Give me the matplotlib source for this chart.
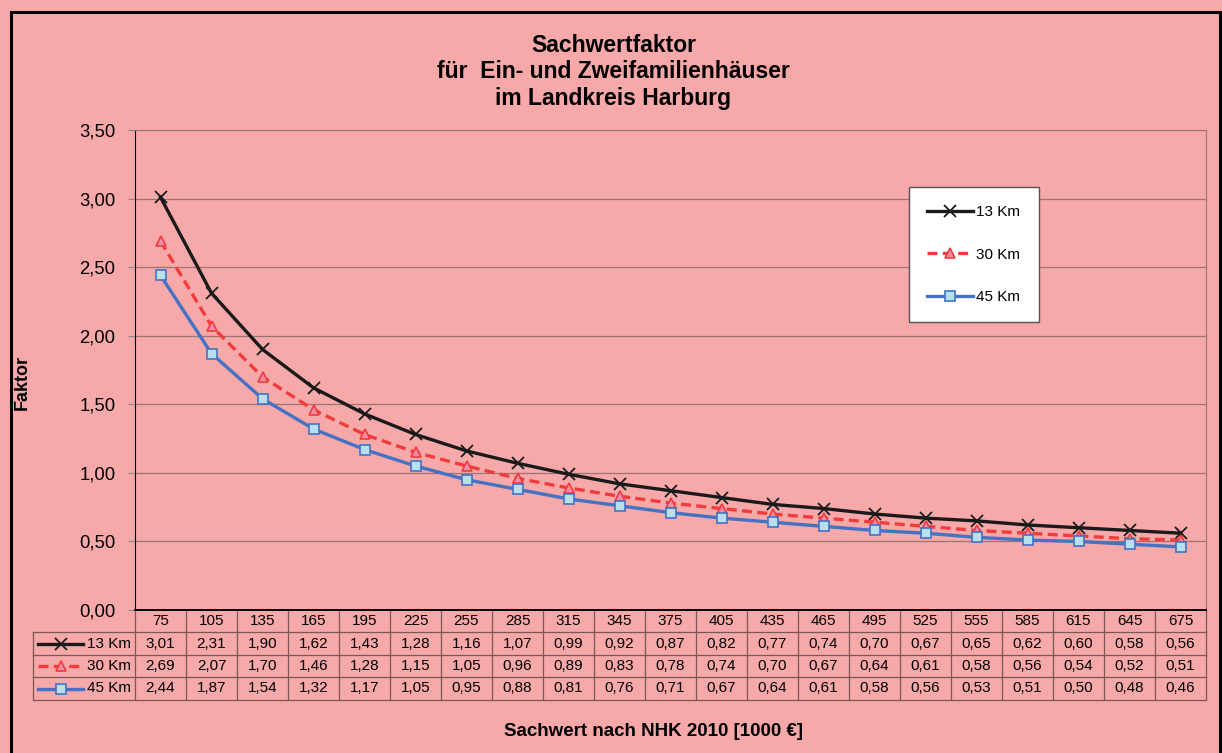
import matplotlib.pyplot as plt
from matplotlib.lines import Line2D
from matplotlib.patches import Rectangle

plt.rcParams['font.family'] = ['Liberation Sans', 'DejaVu Sans']

# Daten
sachwert = [75, 105, 135, 165, 195, 225, 255, 285, 315, 345, 375,
            405, 435, 465, 495, 525, 555, 585, 615, 645, 675]
km13 = [3.01, 2.31, 1.90, 1.62, 1.43, 1.28, 1.16, 1.07, 0.99, 0.92, 0.87,
        0.82, 0.77, 0.74, 0.70, 0.67, 0.65, 0.62, 0.60, 0.58, 0.56]
km30 = [2.69, 2.07, 1.70, 1.46, 1.28, 1.15, 1.05, 0.96, 0.89, 0.83, 0.78,
        0.74, 0.70, 0.67, 0.64, 0.61, 0.58, 0.56, 0.54, 0.52, 0.51]
km45 = [2.44, 1.87, 1.54, 1.32, 1.17, 1.05, 0.95, 0.88, 0.81, 0.76, 0.71,
        0.67, 0.64, 0.61, 0.58, 0.56, 0.53, 0.51, 0.50, 0.48, 0.46]
namen = ['13 Km', '30 Km', '45 Km']
yticks = [0, 0.5, 1.0, 1.5, 2.0, 2.5, 3.0, 3.5]

bg = '#F7A8A8'
grid = '#9C7474'
stile = [
    dict(color='#1A1A1A', lw=2.4, ls='-', marker='x', ms=9, mew=1.3,
         mfc='none', mec='#1A1A1A'),
    dict(color='#F03C3C', lw=2.4, ls=(0, (3, 1.6)), marker='^', ms=7,
         mew=1.2, mfc='#F08CA8', mec='#F03C3C'),
    dict(color='#4472C4', lw=2.4, ls='-', marker='s', ms=7, mew=1.2,
         mfc='#B7E0EC', mec='#4472C4'),
]

W, H = 1222, 753
fig = plt.figure(figsize=(W / 100, H / 100), dpi=100)
fig.patch.set_facecolor(bg)

# Rahmen aussen
fig.add_artist(Rectangle((11 / W, -0.05), (1220 - 11) / W, 1 - 12 / H + 0.05,
                         transform=fig.transFigure, fill=False, lw=2.2,
                         ec='black'))

left, right, top, bottom = 135, 1206, 130, 610
ax = fig.add_axes([left / W, 1 - bottom / H, (right - left) / W,
                   (bottom - top) / H])
ax.set_facecolor(bg)

x = list(range(len(sachwert)))
reihen = [km13, km30, km45]
for werte, name, st in zip(reihen, namen, stile):
    ax.plot(x, werte, label=name, **st)

ax.set_xlim(-0.5, len(sachwert) - 0.5)
ax.set_ylim(0, 3.5)
ax.set_yticks(yticks)
ax.set_yticklabels([f'{v:.2f}'.replace('.', ',') for v in yticks], fontsize=13.3)
ax.set_xticks([])
ax.grid(axis='y', color=grid, lw=0.9)
ax.set_axisbelow(True)
ax.tick_params(axis='y', length=5, color='#888888', pad=9)
ax.spines['left'].set_color('black')
ax.spines['bottom'].set_color('black')
ax.spines['bottom'].set_linewidth(1.4)
ax.spines['top'].set_color(grid)
ax.spines['right'].set_color(grid)

leg = ax.legend(loc='upper left', bbox_to_anchor=(909 / W, 1 - 187 / H),
                bbox_transform=fig.transFigure, fontsize=11, frameon=True,
                fancybox=False, edgecolor='#555555', facecolor='white',
                framealpha=1, handlelength=3.0, labelspacing=1.85,
                borderpad=1.2, handletextpad=0.2, borderaxespad=0)
leg.get_frame().set_linewidth(1.0)

# Datentabelle
ph = bottom - top
pw = right - left
zeilen = [610, 632, 655, 677, 700]
def ay(py):
    return (bottom - py) / ph

tr = ax.get_xaxis_transform()
for i in range(len(sachwert) + 1):
    ax.add_line(Line2D([i - 0.5, i - 0.5], [ay(zeilen[0]), ay(zeilen[-1])],
                       transform=tr, color='#7A5858', lw=0.9, clip_on=False))
lx = (33 - left) / pw
for py in zeilen[1:]:
    ax.add_line(Line2D([lx, 1], [ay(py), ay(py)], transform=ax.transAxes,
                       color='#7A5858', lw=0.9, clip_on=False))
ax.add_line(Line2D([lx, lx], [ay(zeilen[1]), ay(zeilen[-1])],
                   transform=ax.transAxes, color='#7A5858', lw=0.9,
                   clip_on=False))

ym = (ay(zeilen[0]) + ay(zeilen[1])) / 2
for i, s in enumerate(sachwert):
    ax.text(i, ym, str(s), transform=tr, ha='center', va='center',
            fontsize=11)
for r, (werte, name, st) in enumerate(zip(reihen, namen, stile)):
    ym = (ay(zeilen[r + 1]) + ay(zeilen[r + 2])) / 2
    for i, v in enumerate(werte):
        ax.text(i, ym, f'{v:.2f}'.replace('.', ','), transform=tr,
                ha='center', va='center', fontsize=11)
    ax.text((131 - left) / pw, ym, name, transform=ax.transAxes, ha='right',
            va='center', fontsize=11)
    x0, x1 = (38 - left) / pw, (83 - left) / pw
    linie = {k: v for k, v in st.items()
             if k not in ('marker', 'ms', 'mew', 'mfc', 'mec')}
    ax.add_line(Line2D([x0, x1], [ym, ym], transform=ax.transAxes,
                       clip_on=False, **linie))
    ax.add_line(Line2D([(x0 + x1) / 2], [ym], transform=ax.transAxes,
                       clip_on=False, ls='none', marker=st['marker'],
                       ms=st['ms'], mew=st['mew'], mfc=st['mfc'],
                       mec=st['mec']))

# Titel und Achsentitel
fig.text(0.502, 1 - 45 / H, 'Sachwertfaktor', ha='center', va='center',
         fontsize=16.5, fontweight='bold')
fig.text(0.502, 1 - 72 / H, 'für  Ein- und Zweifamilienhäuser', ha='center',
         va='center', fontsize=16.5, fontweight='bold')
fig.text(0.502, 1 - 99 / H, 'im Landkreis Harburg', ha='center',
         va='center', fontsize=16.5, fontweight='bold')
fig.text(22 / W, 1 - 382 / H, 'Faktor', rotation=90, ha='center',
         va='center', fontsize=13, fontweight='bold')
fig.text(654 / W, 1 - 731 / H, 'Sachwert nach NHK 2010 [1000 €]',
         ha='center', va='center', fontsize=13.5, fontweight='bold')

fig.savefig('out.png', dpi=100, facecolor=bg)
